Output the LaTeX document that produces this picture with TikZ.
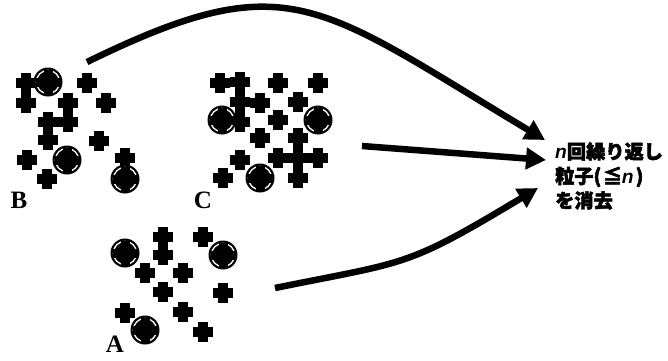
\documentclass[tikz,border=0pt]{standalone}
\usepackage{fontspec}
\setmainfont{Liberation Serif}
\newfontfamily\jpfont{Noto Sans CJK JP}[BoldFeatures={FakeBold=2.5}]
\newfontfamily\latnfont{Liberation Sans}[BoldFeatures={FakeBold=1.5}]
\usetikzlibrary{arrows.meta}

\begin{document}
\begin{tikzpicture}[
    x=1pt, y=-1pt,
    plusbar/.style={line width=10pt},
    ringbar/.style={line width=9pt},
    arrowline/.style={line width=6.5pt, -{Triangle[length=20pt,width=21pt]}},
    caption/.style={font=\fontsize{25}{25}\selectfont\bfseries, inner sep=0pt},
    msgbox/.style={font=\fontsize{19.2}{24.5}\selectfont\jpfont\bfseries, align=left,
      inner sep=0pt, anchor=west}
  ]
  \useasboundingbox (0,0) rectangle (668,360);
  % plain particles
  \foreach \p in {(26,83),(26,103),(87,83),(68,103),(106,103),(48,122),(68,122),
      (48,140),(99,141),(27,160),(47,179),(125,158),
      (220,83),(240,82),(278,83),(318,83),(240,102),(260,103),(298,102),(240,122),
      (278,120),(260,138),(298,138),(240,160),(278,158),(298,158),(318,158),
      (298,178),(223,178),
      (163,237),(163,255),(203,237),(145,273),(183,273),(163,292),(223,293),
      (125,313),(183,312),(203,332)}
    \draw[plusbar] \p +(-10,0) -- +(10,0) \p +(0,-10) -- +(0,10);
  % marked particles
  \foreach \p in {(48,82),(67,160),(125,179),(222,120),(318,120),(260,178),
      (125,253),(223,255),(145,330)}{
    \fill \p circle[radius=14.5pt];
    \fill[white, even odd rule] \p circle[radius=12.3pt] circle[radius=11pt];
    \draw[ringbar] \p +(-12.5,0) -- +(12.5,0) \p +(0,-12.5) -- +(0,12.5);
  }
  \node[caption] (labB) at (19,200) {B};
  \node[caption] (labC) at (203,200) {C};
  \node[caption] (labA) at (115,344) {A};
  \node[msgbox] (msg) at (555,176)
    {{\latnfont\itshape n}回繰り返し\\粒子(\hspace{1.5pt}≦{\latnfont\itshape n}\hspace{2pt})\\を消去};
  \coordinate (fromB) at (87,62);
  \coordinate (fromC) at (362,146);
  \coordinate (fromA) at (275,288);
  \coordinate (toB) at ([shift={(-10,-36)}]msg.west);
  \coordinate (toC) at ([shift={(-9,-16)}]msg.west);
  \coordinate (toA) at ([shift={(-17,12)}]msg.west);
  \draw[arrowline] (fromB) .. controls (288,-36) and (315,2) .. (toB);
  \draw[arrowline] (fromC) -- (toC);
  \draw[arrowline] (fromA) .. controls (408,261) and (405,268) .. (toA);
\end{tikzpicture}
\end{document}
